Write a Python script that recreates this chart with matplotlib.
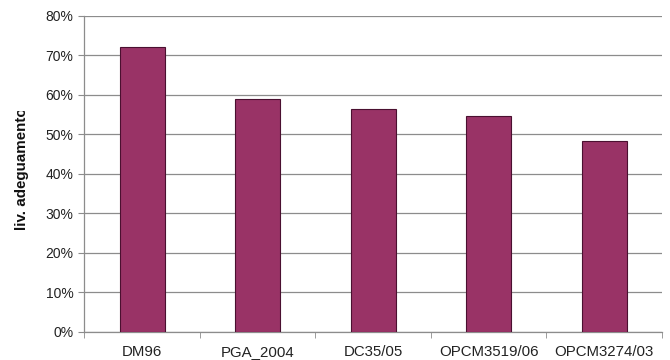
import numpy as np
import matplotlib.pyplot as plt
from matplotlib.ticker import PercentFormatter, FixedLocator
from matplotlib.transforms import Bbox

categories = ['DM96', 'PGA_2004', 'DC35/05', 'OPCM3519/06', 'OPCM3274/03']
values = [72.1, 58.9, 56.4, 54.6, 48.2]

plt.rcParams['font.family'] = ['Liberation Sans', 'DejaVu Sans']

fig = plt.figure(figsize=(6.7, 3.6), dpi=100)
ax = fig.add_axes([0.126, 0.078, 0.862, 0.878])

x = np.arange(len(categories))
ax.bar(x, values, width=0.39, color='#993366', edgecolor='#4a1030', linewidth=0.8, zorder=3)

ax.set_xlim(-0.5, len(categories) - 0.5)
ax.set_ylim(0, 80)
ax.set_yticks(np.arange(0, 81, 10))
ax.yaxis.set_major_formatter(PercentFormatter(decimals=0))
ax.grid(axis='y', color='#8c8c8c', linewidth=0.9, zorder=0)

ax.set_xticks(x)
ax.set_xticklabels(categories)
ax.xaxis.set_minor_locator(FixedLocator(np.arange(-0.5, len(categories), 1)))
ax.tick_params(axis='x', which='major', length=0, pad=9.5, labelsize=10.8, labelcolor='#222222')
ax.tick_params(axis='x', which='minor', length=4, color='#8c8c8c', direction='out')
ax.tick_params(axis='y', length=4, color='#8c8c8c', labelsize=10, pad=4, labelcolor='#222222')

for side in ['top', 'right']:
    ax.spines[side].set_visible(False)
for side in ['left', 'bottom']:
    ax.spines[side].set_color('#8c8c8c')
    ax.spines[side].set_linewidth(0.9)

# y label, cut off at the top like in the original
lab = fig.text(0.033, 0.361, 'liv. adeguamento', rotation=90, ha='center', va='bottom',
               fontsize=10.9, fontweight='bold', color='#111111')
lab.set_clip_on(True)
lab.set_clip_box(Bbox([[0, 0], [80, 360 - 111]]))

fig.savefig('out.png', dpi=100)
